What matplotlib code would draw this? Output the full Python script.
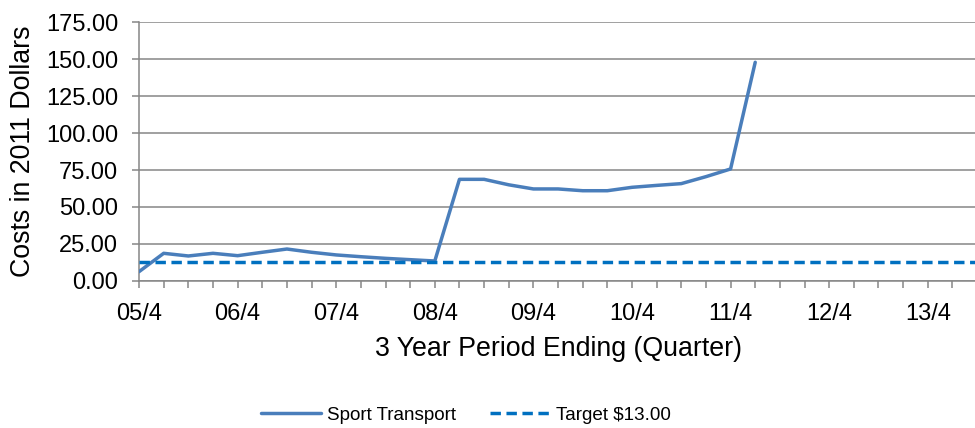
import matplotlib
matplotlib.use('Agg')
import matplotlib.pyplot as plt
import numpy as np

plt.rcParams['font.family'] = ['Liberation Sans', 'DejaVu Sans']

# data
tick_labels = ['05/4', '06/4', '07/4', '08/4', '09/4', '10/4', '11/4', '12/4', '13/4']
sport_transport = [6.3, 18.7, 16.9, 18.7, 17.1, 19.4, 21.6, 19.4, 17.6, 16.4, 15.3,
                   14.4, 13.5, 68.7, 68.7, 65.0, 62.2, 62.2, 61.0, 61.0, 63.3, 64.6,
                   65.8, 70.5, 75.7, 147.8]
target = 13.0
n_quarters = 35

fig = plt.figure(figsize=(9.75, 4.28), dpi=100)
ax = fig.add_axes([0.1426, 0.3435, 0.8595, 0.605])

x = np.arange(len(sport_transport))
ax.plot(x, sport_transport, color='#4A7EBB', lw=2.5, label='Sport Transport',
        solid_capstyle='round', zorder=3)
ax.plot([0, n_quarters - 1], [target, target], color='#0070C0', lw=2.5,
        dashes=(3.0, 1.6), label='Target $13.00', zorder=3)

ax.set_xlim(0, n_quarters - 1)
ax.set_ylim(0, 175)
ax.set_yticks(np.arange(0, 176, 25))
ax.set_yticklabels(['{:.2f}'.format(v) for v in np.arange(0, 176, 25)])
ax.set_xticks(np.arange(n_quarters), minor=True)
ax.set_xticks(np.arange(0, 4 * len(tick_labels), 4))
ax.set_xticklabels(tick_labels)

ax.grid(axis='y', color='#868686', lw=1.1)
ax.set_axisbelow(True)
for s in ['top', 'right']:
    ax.spines[s].set_visible(False)
for s in ['left', 'bottom']:
    ax.spines[s].set_color('#868686')
    ax.spines[s].set_linewidth(1.1)
ax.tick_params(axis='both', which='both', color='#868686', width=1.1, length=5,
               labelsize=17)
ax.tick_params(axis='y', which='major', pad=10)
ax.tick_params(axis='x', which='major', pad=11)

ax.set_xlabel('3 Year Period Ending (Quarter)', fontsize=19.3, labelpad=8)
ax.set_ylabel('Costs in 2011 Dollars', fontsize=19.3, labelpad=7)

fig.legend(loc='center', bbox_to_anchor=(0.478, 0.03), ncol=2, frameon=False,
           fontsize=13.6, handlelength=3.2, columnspacing=1.8, handletextpad=0.3)

fig.savefig('out.png', dpi=100)
